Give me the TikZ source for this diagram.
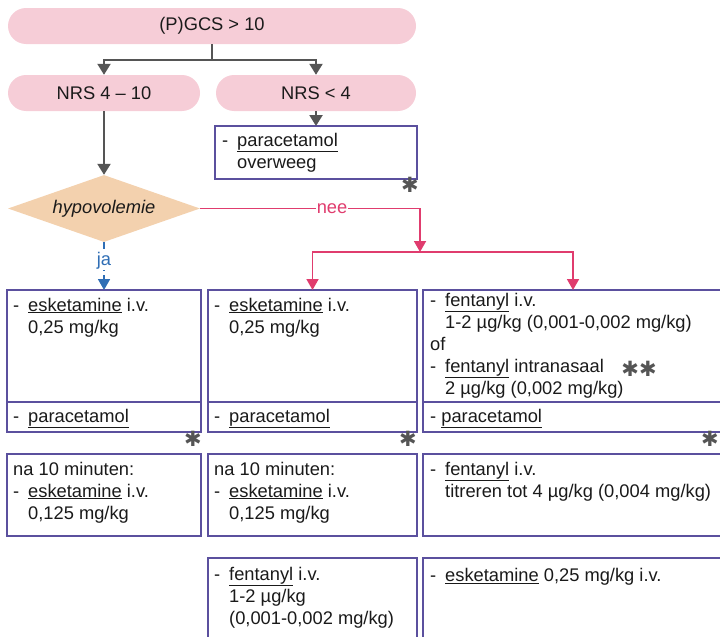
\documentclass[tikz,border=0pt]{standalone}
\usepackage{fontspec}
\setmainfont{Liberation Sans}
\newfontfamily\sterfont{DejaVu Sans}
\usepackage{tikz}
\usetikzlibrary{shapes, arrows.meta, positioning}
\definecolor{roze}{HTML}{F6CDD7}
\definecolor{perzik}{HTML}{F3D1AE}
\definecolor{paars}{HTML}{5B509E}
\definecolor{grijs}{HTML}{555555}
\definecolor{neekleur}{HTML}{E03C6E}
\definecolor{jakleur}{HTML}{2F6EB5}
\definecolor{tekstkleur}{HTML}{1A1A1A}
\newcommand{\letter}{\fontsize{18.3}{22}\selectfont}
\tikzstyle{blok} = [fill=roze, rounded corners=18pt, minimum height=36pt, inner sep=0pt]
\tikzstyle{vraag} = [diamond, fill=perzik, aspect=2.9, minimum width=192pt, minimum height=67pt, inner sep=0pt, font=\letter\itshape]
\tikzstyle{kader} = [draw=paars, line width=2.3pt, rectangle, anchor=north west, inner sep=0pt, outer sep=0pt]
\tikzstyle{tekst} = [anchor=north west, align=left, inner sep=0pt, execute at begin node=\strut]
\tikzstyle{pijl} = [draw=grijs, line width=2.2pt, -{Triangle[width=13pt,length=11pt]}]
\tikzstyle{neelijn} = [draw=neekleur, line width=1.8pt, -{Triangle[width=12pt,length=11pt]}]
\tikzstyle{jalijn} = [draw=jakleur, line width=1.8pt, dash pattern=on 7pt off 4pt, -{Triangle[width=12pt,length=11pt]}]
\tikzstyle{ster} = [text=grijs, font=\sterfont\fontsize{21}{21}\selectfont, inner sep=0pt]
\newcommand{\streep}{\makebox[15pt][l]{-}}
\newcommand{\inspring}{\hspace*{15pt}}

\begin{document}
\begin{tikzpicture}[x=1pt, y=-1pt, font=\letter, text=tekstkleur]
	\useasboundingbox (0,0) rectangle (720,637);
	\clip (0,0) rectangle (720,637);
	% bovenste rij
	\node[blok, minimum width=408pt] (gcs) at (212,26) {(P)GCS > 10};
	\node[blok, minimum width=192pt] (nrshoog) at (104,93) {NRS 4 – 10};
	\node[blok, minimum width=200pt] (nrslaag) at (316,93) {NRS < 4};
	\node[kader, minimum width=202pt, minimum height=53pt] (para) at (215,126) {};
	\node[tekst] (para-t) at ([shift={(7,6.6)}]para.north west) {\streep\underline{paracetamol}\\\inspring overweeg};
	\node[ster] (ster0) at (410,185) {✱};
	\node[vraag] (hypo) at (104,208.5) {hypovolemie};
	% eerste stap
	\node[kader, minimum width=194pt, minimum height=112pt] (esk1) at (7,290) {};
	\node[kader, minimum width=194pt, minimum height=30pt] (par1) at (esk1.south west) {};
	\node[tekst] (esk1-t) at ([shift={(6,7.6)}]esk1.north west) {\streep\underline{esketamine} i.v.\\\inspring 0,25 mg/kg};
	\node[tekst] (par1-t) at ([shift={(6,4.6)}]par1.north west) {\streep\underline{paracetamol}};
	\node[ster] (ster1) at (193,439) {✱};
	\node[kader, minimum width=209pt, minimum height=112pt] (esk2) at (208,290) {};
	\node[kader, minimum width=209pt, minimum height=30pt] (par2) at (esk2.south west) {};
	\node[tekst] (esk2-t) at ([shift={(6,7.6)}]esk2.north west) {\streep\underline{esketamine} i.v.\\\inspring 0,25 mg/kg};
	\node[tekst] (par2-t) at ([shift={(6,4.6)}]par2.north west) {\streep\underline{paracetamol}};
	\node[ster] (ster2) at (408,439) {✱};
	\node[kader, minimum width=300pt, minimum height=112pt] (fen1) at (423,290) {};
	\node[kader, minimum width=300pt, minimum height=30pt] (par3) at (fen1.south west) {};
	\node[tekst] (fen1-t) at ([shift={(7,2.6)}]fen1.north west) {\streep\underline{fentanyl} i.v.\\\inspring 1-2 µg/kg (0,001-0,002 mg/kg)\\of\\\streep\underline{fentanyl} intranasaal\\\inspring 2 µg/kg (0,002 mg/kg)};
	\node[tekst] (par3-t) at ([shift={(7,4.6)}]par3.north west) {- \underline{paracetamol}};
	\node[ster] (ster3) at (639,369) {✱✱};
	\node[ster] (ster4) at (710,439) {✱};
	% na 10 minuten
	\node[kader, minimum width=194pt, minimum height=82pt] (esk3) at (7,454) {};
	\node[tekst] (esk3-t) at ([shift={(6,7.6)}]esk3.north west) {na 10 minuten:\\\streep\underline{esketamine} i.v.\\\inspring 0,125 mg/kg};
	\node[kader, minimum width=209pt, minimum height=82pt] (esk4) at (208,454) {};
	\node[tekst] (esk4-t) at ([shift={(6,7.6)}]esk4.north west) {na 10 minuten:\\\streep\underline{esketamine} i.v.\\\inspring 0,125 mg/kg};
	\node[kader, minimum width=300pt, minimum height=82pt] (fen2) at (423,454) {};
	\node[tekst] (fen2-t) at ([shift={(7,7.6)}]fen2.north west) {\streep\underline{fentanyl} i.v.\\\inspring titreren tot 4 µg/kg (0,004 mg/kg)};
	% laatste rij
	\node[kader, minimum width=209pt, minimum height=110pt] (fen3) at (208,558) {};
	\node[tekst] (fen3-t) at ([shift={(6,8.6)}]fen3.north west) {\streep\underline{fentanyl} i.v.\\\inspring 1-2 µg/kg\\\inspring (0,001-0,002 mg/kg)};
	\node[kader, minimum width=300pt, minimum height=110pt] (esk5) at (423,558) {};
	\node[tekst] (esk5-t) at ([shift={(7,7.6)}]esk5.north west) {\streep\underline{esketamine} 0,25 mg/kg i.v.};
	% pijlen
	\draw[pijl] (gcs.south) -- ++(0,16) -| (nrshoog.north);
	\draw[pijl] (gcs.south) -- ++(0,16) -| (nrslaag.north);
	\draw[pijl] (nrslaag.south) -- (para.north);
	\draw[pijl] (nrshoog.south) -- (hypo.north);
	\coordinate (splits) at (420,252);
	\draw[neelijn] (hypo.east) -| (splits) node[pos=0.3, fill=white, text=neekleur, inner sep=1pt] (nee) {nee};
	\draw[neelijn] (splits) -| (esk2.north);
	\draw[neelijn] (splits) -| (fen1.north);
	\draw[jalijn] (hypo.south) -- (esk1.north) node[pos=0.38, fill=white, text=jakleur, inner sep=1pt] (ja) {ja};
\end{tikzpicture}
\end{document}
